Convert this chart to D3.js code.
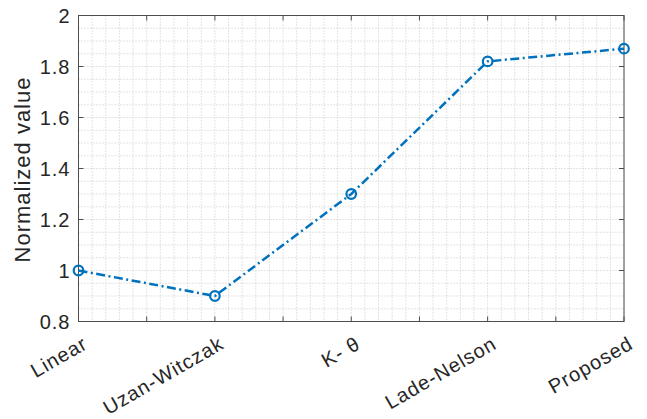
<!DOCTYPE html>
<html><head><meta charset="utf-8">
<script src="https://cdn.jsdelivr.net/npm/d3@7"></script>
<style>body{margin:0;background:#fff}svg{display:block}text{font-family:"Liberation Sans",Arial,sans-serif;fill:#262626}</style>
</head><body><svg id="c" width="647" height="419"></svg>
<script>
const categories = ["Linear","Uzan-Witczak","K- θ","Lade-Nelson","Proposed"];
const values = [1.00, 0.90, 1.30, 1.82, 1.87];
const yTicks = [0.8, 1, 1.2, 1.4, 1.6, 1.8, 2];
const yLabel = "Normalized value";

const svg = d3.select("#c");
const L = 78.5, R = 624, T = 15.5, B = 321.5;
const x = d3.scaleLinear().domain([1, 5]).range([L, R]);
const y = d3.scaleLinear().domain([0.8, 2]).range([B, T]);
const g = svg.append("g");

// minor + major grid (dotted)
const xMinor = d3.range(1, 5.0001, 0.1);
const yMinor = d3.range(0.8, 2.0001, 0.05);
g.selectAll(".gx").data(xMinor).join("line")
  .attr("x1", d => x(d)).attr("x2", d => x(d)).attr("y1", T).attr("y2", B)
  .attr("stroke", "#c8c8c8").attr("stroke-width", 1).attr("stroke-dasharray", "1,2");
g.selectAll(".gy").data(yMinor).join("line")
  .attr("x1", L).attr("x2", R).attr("y1", d => y(d)).attr("y2", d => y(d))
  .attr("stroke", "#c8c8c8").attr("stroke-width", 1).attr("stroke-dasharray", "1,2");

// axes box
g.append("rect").attr("x", L).attr("y", T).attr("width", R - L).attr("height", B - T)
  .attr("fill", "none").attr("stroke", "#4d4d4d").attr("stroke-width", 1);

// ticks (inside, all sides)
const xTickPos = d3.range(1, 5.0001, 0.5);
const tl = 5;
xTickPos.forEach(v => {
  g.append("line").attr("x1", x(v)).attr("x2", x(v)).attr("y1", B).attr("y2", B - tl).attr("stroke", "#4d4d4d");
  g.append("line").attr("x1", x(v)).attr("x2", x(v)).attr("y1", T).attr("y2", T + tl).attr("stroke", "#4d4d4d");
});
yTicks.forEach(v => {
  g.append("line").attr("x1", L).attr("x2", L + tl).attr("y1", y(v)).attr("y2", y(v)).attr("stroke", "#4d4d4d");
  g.append("line").attr("x1", R).attr("x2", R - tl).attr("y1", y(v)).attr("y2", y(v)).attr("stroke", "#4d4d4d");
});

// y tick labels
g.selectAll(".yl").data(yTicks).join("text")
  .attr("x", L - 8).attr("y", d => y(d)).attr("dy", "0.35em")
  .attr("text-anchor", "end").attr("font-size", 20).attr("letter-spacing", 1)
  .text(d => d3.format("~g")(d));

// x tick labels rotated
g.selectAll(".xl").data(categories).join("text")
  .attr("transform", (d, i) => `translate(${x(i + 1) + 7},${B + 20}) rotate(-30)`)
  .attr("dy", "0.35em").attr("text-anchor", "end").attr("font-size", 20).attr("letter-spacing", 1)
  .text(d => d);

// y axis label
svg.append("text").attr("transform", `translate(30,${(T + B) / 2 + 1}) rotate(-90)`)
  .attr("text-anchor", "middle").attr("font-size", 22).attr("letter-spacing", 1).text(yLabel);

// line
const line = d3.line().x((d, i) => x(i + 1)).y(d => y(d));
g.append("path").datum(values).attr("d", line).attr("fill", "none")
  .attr("stroke", "#0072BD").attr("stroke-width", 2.5).attr("stroke-dasharray", "9,3.5,2,3.5");
g.selectAll(".m").data(values).join("circle")
  .attr("cx", (d, i) => x(i + 1)).attr("cy", d => y(d)).attr("r", 4.8)
  .attr("fill", "none").attr("stroke", "#0072BD").attr("stroke-width", 2.2);
</script></body></html>
